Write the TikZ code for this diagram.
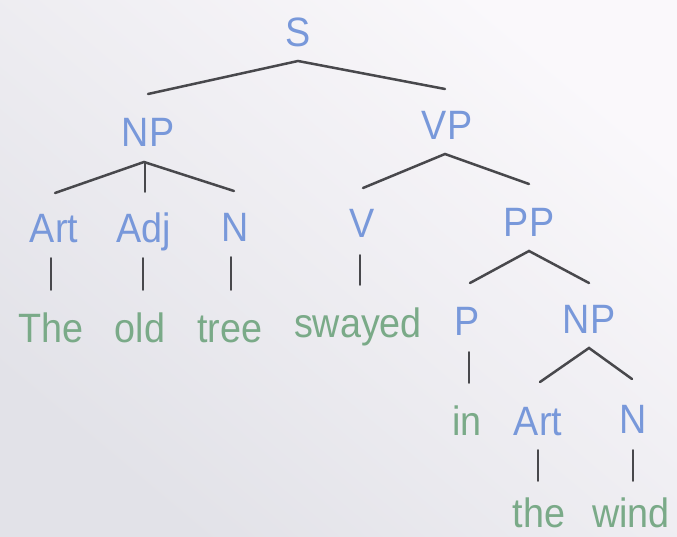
\documentclass[tikz,border=0pt]{standalone}
\usepackage{fontspec}
\setmainfont{Liberation Sans}[FakeStretch=0.92]
\usetikzlibrary{calc}
\definecolor{catblue}{HTML}{7898DA}
\definecolor{wordgreen}{HTML}{7AAA88}
\definecolor{branch}{HTML}{48484C}
\definecolor{paperlight}{HTML}{FAF8FB}
\definecolor{paperdark}{HTML}{E2E2E8}
\tikzset{
  cat/.style={anchor=base, inner sep=0pt, text=catblue, font=\fontsize{41}{46}\selectfont},
  word/.style={anchor=base, inner sep=0pt, text=wordgreen, font=\fontsize{41}{46}\selectfont},
  edge/.style={draw=branch, line width=2.5pt, line cap=round},
  leaf/.style={draw=branch, line width=1.9pt, line cap=round}
}
\begin{document}
\begin{tikzpicture}[x=1pt, y=-1pt]
  % paper background
  \shade[top color=paperlight, bottom color=paperdark, shading angle=-40]
    (0,0) rectangle (677,537);
  \useasboundingbox (0,0) rectangle (677,537);

  % category labels (placed on their baselines)
  \node[cat] (S)    at (298,47)  {S};
  \node[cat] (NP)   at (148,147) {NP};
  \node[cat] (VP)   at (447,140) {VP};
  \node[cat] (Art)  at (54,243)  {Art};
  \node[cat] (Adj)  at (144,243) {Adj};
  \node[cat] (N)    at (235,242) {N};
  \node[cat] (V)    at (362,238) {V};
  \node[cat] (PP)   at (529,237) {PP};
  \node[cat] (P)    at (467,335) {P};
  \node[cat] (NPb)  at (589,333) {NP};
  \node[cat] (Artb) at (538,435) {Art};
  \node[cat] (Nb)   at (633,433) {N};

  % words
  \node[word] (The)    at (51,342)  {The};
  \node[word] (old)    at (140,342) {old};
  \node[word] (tree)   at (230,342) {tree};
  \node[word] (swayed) at (358,337) {swayed};
  \node[word] (in)     at (467,435) {in};
  \node[word] (the)    at (539,527) {the};
  \node[word] (wind)   at (631,527) {wind};

  % branches: from just below the parent to just above each child
  \draw[edge] ($(NP.base)+(0,-53)$) -- ($(S.base)+(0,14)$) -- ($(VP.base)+(-2,-51)$);
  \draw[edge] ($(Art.base)+(1,-50)$) -- ($(NP.base)+(-4,15)$) -- ($(N.base)+(-1,-51)$);
  \draw[leaf] ($(NP.base)+(-3,15)$) -- ($(NP.base |- Adj.base)+(-3,-51)$);
  \draw[edge] ($(V.base)+(1,-50)$) -- ($(VP.base)+(-2,14)$) -- ($(PP.base)+(0,-53)$);
  \draw[edge] ($(P.base)+(3,-52)$) -- ($(PP.base)+(0,14)$) -- ($(NPb.base)+(0,-50)$);
  \draw[edge] ($(Artb.base)+(2,-53)$) -- ($(NPb.base)+(0,15)$) -- ($(Nb.base)+(-1,-54)$);

  % leaf links
  \draw[leaf] ($(Art.base)+(-3,15)$) -- ($(Art.base |- The.base)+(-3,-52)$);
  \draw[leaf] ($(Adj.base)+(-1,15)$) -- ($(Adj.base |- old.base)+(-1,-52)$);
  \draw[leaf] ($(N.base)+(-4,15)$) -- ($(N.base |- tree.base)+(-4,-52)$);
  \draw[leaf] ($(V.base)+(-2,17)$) -- ($(V.base |- swayed.base)+(-2,-52)$);
  \draw[leaf] ($(P.base)+(2,17)$) -- ($(P.base |- in.base)+(2,-52)$);
  \draw[leaf] ($(Artb.base)+(0,15)$) -- ($(Artb.base |- the.base)+(0,-46)$);
  \draw[leaf] ($(Nb.base)+(0,17)$) -- ($(Nb.base |- wind.base)+(0,-46)$);
\end{tikzpicture}
\end{document}
